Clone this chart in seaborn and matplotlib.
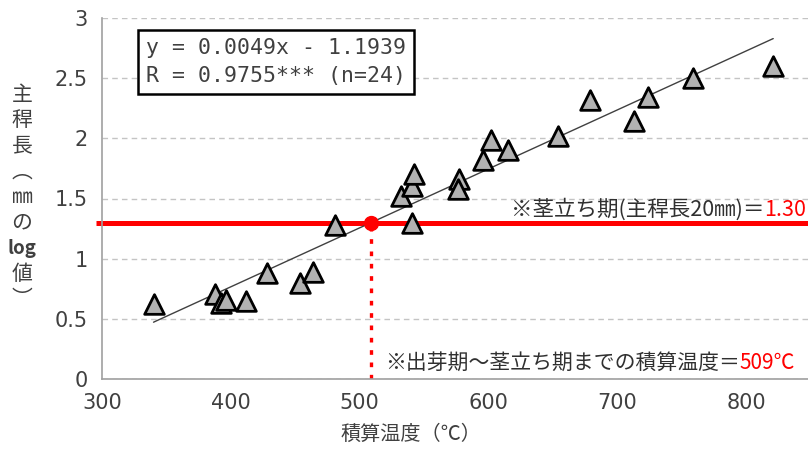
import numpy as np
import pandas as pd
import matplotlib
matplotlib.use('Agg')
import matplotlib.pyplot as plt
import seaborn as sns

# accumulated temperature (C) and log10 of main stem length (mm)
temp_sum = [340, 388, 392, 396, 412, 428, 454, 464, 481, 532, 541, 542, 541,
            577, 576, 596, 602, 615, 654, 679, 713, 724, 759, 821]
log_len = [0.62, 0.71, 0.63, 0.66, 0.65, 0.88, 0.80, 0.89, 1.28, 1.52, 1.60,
           1.70, 1.30, 1.66, 1.58, 1.82, 1.99, 1.90, 2.02, 2.32, 2.14, 2.34,
           2.50, 2.60]

slope = 0.0049
intercept = -1.1939
stem_level = 1.30       # log value at stem erection (20 mm)
stem_temp = 509         # accumulated temperature at stem erection

eq_lines = ['y = 0.0049x - 1.1939', 'R = 0.9755*** (n=24)']
ylabel_chars = ['主', '稈', '長', '︵', '㎜', 'の', 'log', '値', '︶']

sns.set_theme(style='white')
plt.rcParams['font.family'] = ['Noto Sans CJK JP', 'DejaVu Sans']

fig = plt.figure(figsize=(8.08, 4.5), dpi=100)
ax = fig.add_axes([102 / 808, 71 / 450, 706 / 808, 361 / 450])

df = pd.DataFrame({'temp': temp_sum, 'loglen': log_len})

# regression line over the data range
xs = np.array([min(temp_sum), max(temp_sum)])
fit = pd.DataFrame({'temp': xs, 'loglen': slope * xs + intercept})
sns.lineplot(data=fit, x='temp', y='loglen', ax=ax, color='#404040',
             lw=1.0, zorder=3)

# stem-erection level lines
ax.plot([295, 848], [stem_level, stem_level], color='red', lw=3.6,
        clip_on=False, zorder=2, solid_capstyle='butt')
ax.plot([stem_temp, stem_temp], [0, stem_level], color='red', lw=2.4,
        linestyle=(0, (1.4, 2.3)), dash_capstyle='butt', zorder=2)

sns.scatterplot(data=df, x='temp', y='loglen', ax=ax, marker='^', s=200,
                color='#b2b2b2', edgecolor='black', linewidth=2, zorder=4)

ax.plot([stem_temp], [stem_level], 'o', color='red', ms=10, zorder=5)

ax.set_xlim(300, 848)
ax.set_ylim(0, 3)
ax.set_xticks([300, 400, 500, 600, 700, 800])
ax.set_yticks([0, 0.5, 1, 1.5, 2, 2.5, 3])
ax.set_yticklabels(['0', '0.5', '1', '1.5', '2', '2.5', '3'])
ax.yaxis.grid(True, color='#c4c4c4', linestyle=(0, (4, 3)), lw=1)
ax.set_axisbelow(True)
for side in ['top', 'right']:
    ax.spines[side].set_visible(False)
for side in ['left', 'bottom']:
    ax.spines[side].set_color('#a0a0a0')
    ax.spines[side].set_linewidth(1.2)
ax.tick_params(axis='both', which='major', direction='out', length=4,
               width=1.2, color='#a0a0a0', labelsize=15, labelcolor='#404040',
               pad=6)
for lab in ax.get_xticklabels() + ax.get_yticklabels():
    lab.set_family('DejaVu Sans')

ax.set_xlabel('積算温度（℃）', fontsize=14.5, color='#404040')
ax.xaxis.set_label_coords(0.437, -0.125)
ax.set_ylabel('')

# stacked vertical y label
n = len(ylabel_chars)
for i, ch in enumerate(ylabel_chars):
    fig.text(22 / 808, 1 - (95 + i * 25.5) / 450, ch, ha='center',
             va='center', fontsize=15 if ch != 'log' else 13.5,
             color='#404040', fontweight='bold' if ch == 'log' else 'normal')

# equation box
fig.text(146 / 808, 1 - 62 / 450, '\n'.join(eq_lines),
         family='DejaVu Sans Mono', fontsize=15.5, color='#404040',
         ha='left', va='center', linespacing=1.55,
         bbox=dict(boxstyle='square,pad=0.35', fc='white', ec='black', lw=1.8))

# annotations
red_top = fig.text(806 / 808, 1 - 221 / 450, '1.30', color='red',
                   fontsize=15.5, ha='right', va='bottom')
ax.annotate('※茎立ち期(主稈長20㎜)＝', xy=(0, 0), xycoords=red_top,
            ha='right', va='bottom', fontsize=15.5, color='#303030')

blk = fig.text(385 / 808, 1 - 374 / 450, '※出芽期～茎立ち期までの積算温度＝',
               color='#303030', fontsize=15, ha='left', va='bottom')
ax.annotate('509℃', xy=(1, 0), xycoords=blk, ha='left', va='bottom',
            fontsize=15, color='red')

fig.savefig('out.png', dpi=100)
